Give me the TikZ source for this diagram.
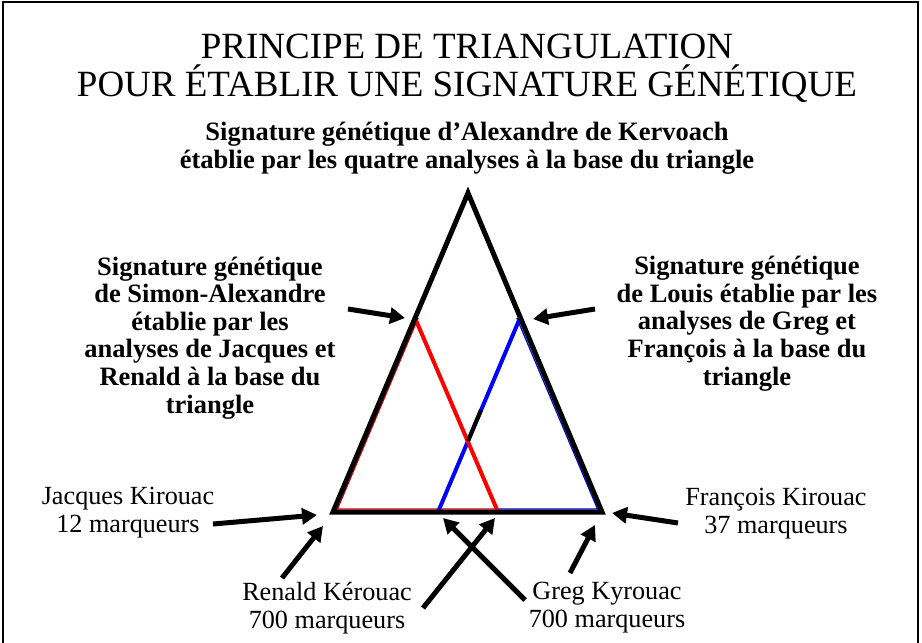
\documentclass[tikz,border=0pt]{standalone}
\usepackage{fontspec}
\setmainfont{Liberation Serif}
\usetikzlibrary{arrows.meta,calc}
\begin{document}
\begin{tikzpicture}[x=1pt,y=-1pt,
  lbl/.style={align=center, font=\fontsize{26.2}{28}\selectfont, inner sep=0pt, anchor=base},
  blbl/.style={align=center, font=\fontsize{26.5}{27.6}\selectfont\bfseries, inner sep=0pt, anchor=base},
  ttl/.style={align=center, font=\fontsize{37}{38}\selectfont, inner sep=0pt, anchor=base},
  arr/.style={line width=5pt, -{Triangle[length=15pt,width=16pt]}},
  tri/.style={line width=5pt, line join=miter, miter limit=20},
  redl/.style={red, line width=4pt},
  bluel/.style={blue, line width=4pt},
  thinred/.style={red!85!black, line width=1.2pt},
  thinblue/.style={blue!85!black, line width=1.2pt}]
\path[use as bounding box] (0,0) rectangle (922,643);
\draw[line width=2pt] (3,660) -- (3,2) -- (918,2) -- (918,660);

% titles (anchor base = last line)
\node[ttl] (title) at (467,96) {PRINCIPE DE TRIANGULATION\\POUR ÉTABLIR UNE SIGNATURE GÉNÉTIQUE};
\node[blbl] (sub) at (467,168) {Signature génétique d’Alexandre de Kervoach\\établie par les quatre analyses à la base du triangle};

% triangle points
\coordinate (A) at (468,193);
\coordinate (B) at (333,512);
\coordinate (C) at (602,512);
\coordinate (R1) at (415,318);
\coordinate (R2) at (498,512);
\coordinate (B1) at (520,318);
\coordinate (B2) at (438,512);
\coordinate (X) at (468,441);
\coordinate (K) at (481,410);

% thin inner traces
\draw[thinred] ($(R1)+(3.2,0)$) -- ($(B)+(4.5,-3)$) -- ($(R2)+(0,-3)$);
\draw[thinblue] ($(B1)+(-3.2,0)$) -- ($(C)+(-4.5,-3)$) -- ($(R2)+(0,-3)$);

% inner lines
\draw[bluel] (B1) -- (B2);
\draw[redl] (R1) -- (R2);
\draw[line width=4pt] (X) -- (K);

% main triangle
\draw[tri] (A) -- (B) -- (C) -- cycle;

% labels
\node[blbl] (simon) at (210,413) {Signature génétique\\de Simon-Alexandre\\établie par les\\analyses de Jacques et\\Renald à la base du\\triangle};
\node[blbl] (louis) at (747,385) {Signature génétique\\de Louis établie par les\\analyses de Greg et\\François à la base du\\triangle};
\node[lbl] (jacques) at (128,532) {Jacques Kirouac\\12 marqueurs};
\node[lbl] (francois) at (776,533) {François Kirouac\\37 marqueurs};
\node[lbl] (renald) at (327,628) {Renald Kérouac\\700 marqueurs};
\node[lbl] (greg) at (607,627) {Greg Kyrouac\\700 marqueurs};

% arrow ends
\coordinate (s1) at (348,309); \coordinate (t1) at (405,318);
\coordinate (s2) at (595,309); \coordinate (t2) at (533,319);
\coordinate (s3) at (213,524); \coordinate (t3) at (317,515);
\coordinate (s4) at (282,578); \coordinate (t4) at (323,526);
\coordinate (s5) at (423,608); \coordinate (t5) at (495,518);
\coordinate (s6) at (525,600); \coordinate (t6) at (443,518);
\coordinate (s7) at (570,573); \coordinate (t7) at (595,525);
\coordinate (s8) at (678,523); \coordinate (t8) at (612,513);

\foreach \i in {1,...,8} \draw[arr] (s\i) -- (t\i);
\end{tikzpicture}
\end{document}
